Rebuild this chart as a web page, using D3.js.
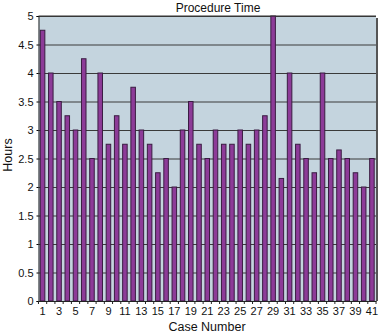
<!DOCTYPE html>
<html>
<head>
<meta charset="utf-8">
<script src="https://cdn.jsdelivr.net/npm/d3@7"></script>
<style>
  body { margin: 0; background: #fff; }
  text { font-family: "Liberation Sans", Arial, sans-serif; fill: #111; }
</style>
</head>
<body>
<div id="chart"></div>
<script>
const cases = d3.range(1, 42);
const hours = [4.75, 4, 3.5, 3.25, 3, 4.25, 2.5, 4, 2.75, 3.25,
               2.75, 3.75, 3, 2.75, 2.25, 2.5, 2, 3, 3.5, 2.75,
               2.5, 3, 2.75, 2.75, 3, 2.75, 3, 3.25, 5, 2.15,
               4, 2.75, 2.5, 2.25, 4, 2.5, 2.65, 2.5, 2.25, 2, 2.5];
const yTicks = [0, 0.5, 1, 1.5, 2, 2.5, 3, 3.5, 4, 4.5, 5];

const width = 380, height = 334;
const margin = { top: 16, right: 4, bottom: 33, left: 38.5 };

const svg = d3.select("#chart").append("svg")
  .attr("width", width)
  .attr("height", height);

const x = d3.scaleBand()
  .domain(cases)
  .range([margin.left, width - margin.right])
  .paddingInner(0.45)
  .paddingOuter(0.22);

const y = d3.scaleLinear()
  .domain([0, 5])
  .range([height - margin.bottom, margin.top]);

// shadow on the right
svg.append("rect")
  .attr("x", width - margin.right)
  .attr("y", margin.top + 2)
  .attr("width", 2)
  .attr("height", y(0) - margin.top - 2)
  .attr("fill", "#555");

svg.append("rect")
  .attr("x", margin.left)
  .attr("y", margin.top)
  .attr("width", width - margin.right - margin.left)
  .attr("height", y(0) - margin.top)
  .attr("fill", "#c4d4de");

svg.append("g")
  .attr("transform", `translate(${margin.left},0)`)
  .call(d3.axisLeft(y).tickValues(yTicks).tickSize(-(width - margin.right - margin.left)).tickSizeOuter(0).tickFormat(d3.format("")))
  .call(g => g.select(".domain").remove())
  .call(g => g.selectAll(".tick line").attr("stroke", "#3a3a3a").attr("stroke-width", 1))
  .call(g => g.selectAll(".tick text").attr("x", -5).style("font-size", "11px"));

// small outside ticks on y
svg.append("g")
  .attr("transform", `translate(${margin.left},0)`)
  .call(d3.axisLeft(y).tickValues(yTicks).tickSize(2).tickFormat(""))
  .call(g => g.select(".domain").attr("stroke", "#222"));

svg.append("g")
  .selectAll("rect")
  .data(hours)
  .join("rect")
    .attr("x", (d, i) => x(cases[i]))
    .attr("y", d => y(d))
    .attr("width", x.bandwidth())
    .attr("height", d => y(0) - y(d))
    .attr("fill", "#8d3b98")
    .attr("stroke", "#3a1c42")
    .attr("stroke-width", 1);

// top border
svg.append("line")
  .attr("x1", margin.left).attr("x2", width - margin.right)
  .attr("y1", margin.top).attr("y2", margin.top)
  .attr("stroke", "#333");

const step = x.step();
svg.append("g")
  .attr("transform", `translate(0,${y(0)})`)
  .call(d3.axisBottom(x).tickValues(cases.filter(c => c % 2 === 1)).tickSize(0).tickPadding(6))
  .call(g => g.select(".domain").attr("stroke", "#222"))
  .call(g => g.selectAll(".tick text").style("font-size", "11px"));

svg.append("g")
  .selectAll("line")
  .data(d3.range(0, cases.length + 1))
  .join("line")
    .attr("x1", i => margin.left + i * step + x.paddingOuter() * step - x.paddingInner() * step / 2)
    .attr("x2", i => margin.left + i * step + x.paddingOuter() * step - x.paddingInner() * step / 2)
    .attr("y1", y(0)).attr("y2", y(0) + 3)
    .attr("stroke", "#222");

svg.append("text")
  .attr("x", 218).attr("y", 12)
  .attr("text-anchor", "middle")
  .style("font-size", "12px")
  .text("Procedure Time");

svg.append("text")
  .attr("x", 207).attr("y", 331)
  .attr("text-anchor", "middle")
  .style("font-size", "12.5px")
  .text("Case Number");

svg.append("text")
  .attr("transform", "rotate(-90)")
  .attr("x", -155).attr("y", 12)
  .attr("text-anchor", "middle")
  .style("font-size", "12.5px")
  .text("Hours");
</script>
</body>
</html>
